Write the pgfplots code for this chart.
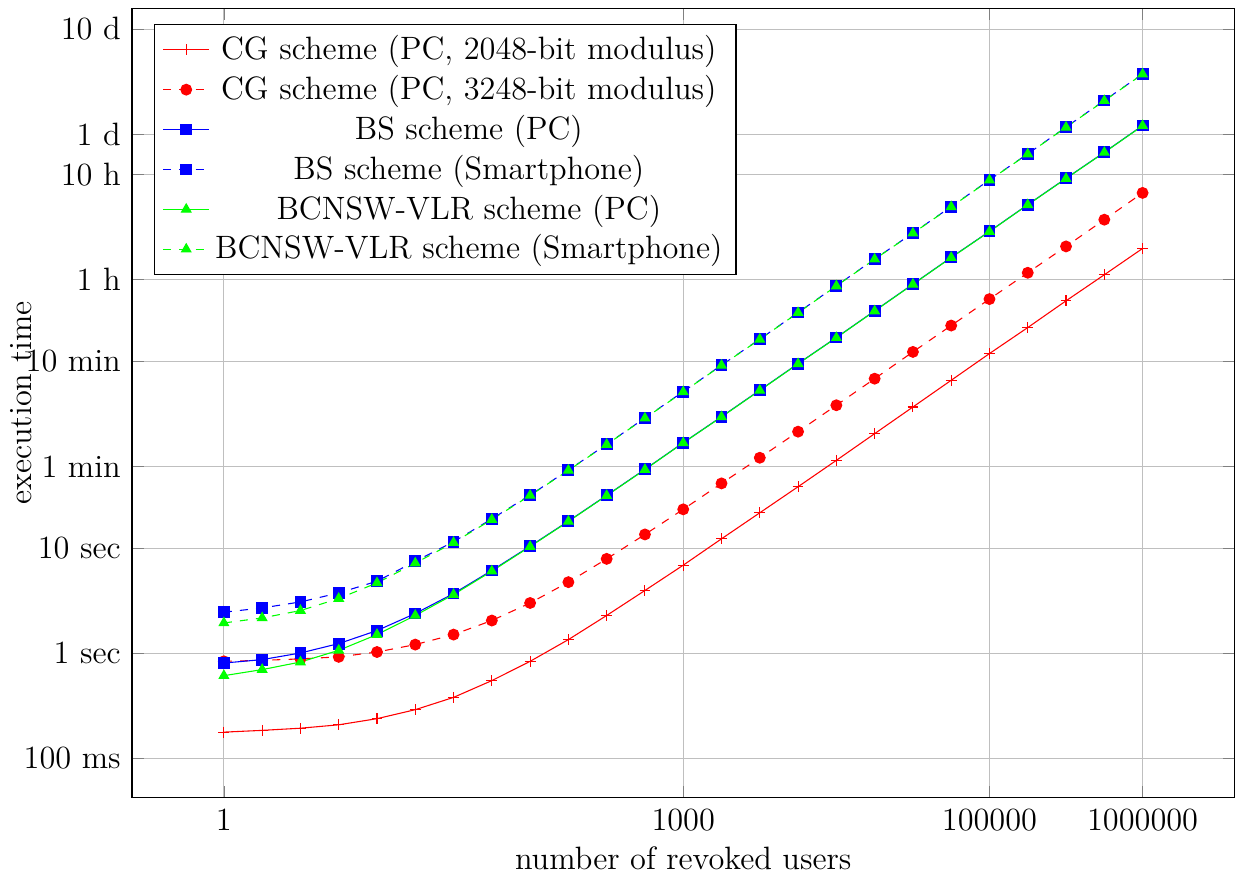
\documentclass[border=0pt,12pt]{standalone}
\usepackage{pgfplots}
\usepackage{pgfplotstable}
\pgfplotsset{compat=1.18}

\pgfplotstableread{
n        cga     cgb     bspc    bssp    bcpc    bcsp
1        0.178   0.839   0.808   2.46    0.613   1.944
1.7783   0.185   0.857   0.871   2.70    0.700   2.17
3.1623   0.194   0.885   1.007   3.08    0.826   2.55
5.6234   0.209   0.925   1.237   3.75    1.068   3.32
10       0.239   1.029   1.645   4.85    1.507   4.67
17.783   0.291   1.21    2.39    7.5     2.29    7.2
31.623   0.381   1.507   3.70    11.5    3.62    11.3
56.234   0.550   2.05    6.14    19.0    6.04    18.7
100      0.839   3.01    10.45   32.0    10.35   31.7
177.83   1.35    4.75    18.07   55.3    17.95   54.9
316.23   2.29    7.91    31.8    97.2    31.6    96.7
562.34   3.96    13.5    56.2    173     55.9    172
1000     6.89    23.4    100.7   308     100.2   306
1778.3   12.27   41.3    178     550     177     547
3162.3   21.7    72.4    318     972     316     967
5623.4   38.4    128.2   569     1742    566     1733
10000    68.4    228.6   1007    3127    1002    3111
17783    122.7   409     1807    5620    1798    5592
31623    220     735     3244    9930    3228    9880
56234    395     1309    5822    17700   5793    17610
100000   709     2337    10300   31770   10250   31610
177828   1253    4159    18490   56200   18400   55920
316228   2250    7408    32890   101000  32730   100500
562341   3981    13300   58200   180700  57910   179800
1000000  7085    23900   104500  323500  104000  321900
}\datatable

\begin{document}
\begin{tikzpicture}
\begin{axis}[
  scale only axis,
  width=409pt, height=293pt,
  xmode=log, ymode=log,
  xmin=0.2512, xmax=3.981e6,
  ymin=0.0422, ymax=1.368e6,
  xtick={1,1000,100000,1000000},
  xticklabels={1,1000,100000,1000000},
  ytick={0.1,1,10,60,600,3600,36000,86400,864000},
  yticklabels={100 ms,1 sec,10 sec,1 min,10 min,1 h,10 h,1 d,10 d},
  minor xtick={}, minor ytick={},
  grid=major,
  xlabel={number of revoked users},
  ylabel={execution time},
  every axis x label/.style={at={(axis description cs:0.5,0)},anchor=north,yshift=-14pt},
  every axis y label/.style={at={(axis description cs:0,0.5)},anchor=center,xshift=-41pt,rotate=90},
  legend cell align=center,
  legend style={at={(0.02,0.98)}, anchor=north west},
]
\addplot[red, mark=+] table[x=n, y=cga] {\datatable};
\addlegendentry{CG scheme (PC, 2048-bit modulus)}
\addplot[red, dashed, mark=*, mark options={solid}] table[x=n, y=cgb] {\datatable};
\addlegendentry{CG scheme (PC, 3248-bit modulus)}
\addplot[blue, mark=square*] table[x=n, y=bspc] {\datatable};
\addlegendentry{BS scheme (PC)}
\addplot[blue, dashed, mark=square*, mark options={solid}] table[x=n, y=bssp] {\datatable};
\addlegendentry{BS scheme (Smartphone)}
\addplot[green, mark=triangle*] table[x=n, y=bcpc] {\datatable};
\addlegendentry{BCNSW-VLR scheme (PC)}
\addplot[green, dashed, mark=triangle*, mark options={solid}] table[x=n, y=bcsp] {\datatable};
\addlegendentry{BCNSW-VLR scheme (Smartphone)}
\end{axis}
\path ([yshift=3pt]current axis.north);
\end{tikzpicture}
\end{document}
